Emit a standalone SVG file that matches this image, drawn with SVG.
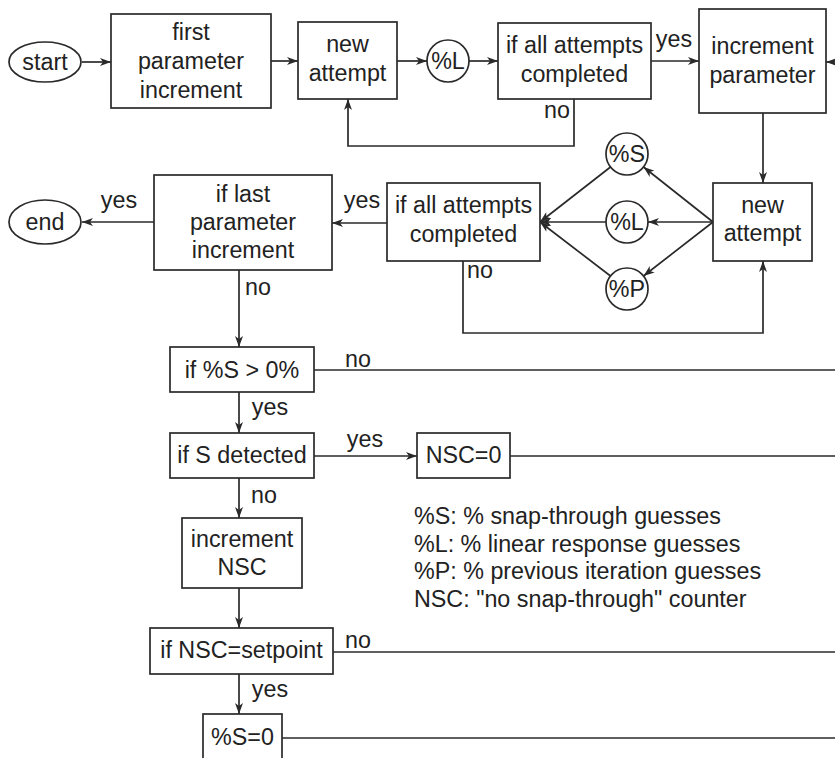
<svg xmlns="http://www.w3.org/2000/svg" width="835" height="758" viewBox="0 0 835 758">
<defs>
<marker id="ah" markerUnits="userSpaceOnUse" markerWidth="12" markerHeight="8" refX="11" refY="4" orient="auto">
<path d="M0,0 L11,4 L0,8 L3,4 z" fill="#2a2a2a"/>
</marker>
<style>
.n{fill:#fff;stroke:#2a2a2a;stroke-width:1.7}
.t{font-family:"Liberation Sans",Arial,sans-serif;font-size:23.3px;fill:#222;text-anchor:middle}
.l{font-family:"Liberation Sans",Arial,sans-serif;font-size:23.3px;fill:#222}
.c{fill:none;stroke:#2a2a2a;stroke-width:1.7}
.a{marker-end:url(#ah)}
</style>
</defs>
<rect width="835" height="758" fill="#fff"/>
<g id="connectors">
<line class="c a" x1="82" y1="62" x2="111" y2="62"/>
<line class="c a" x1="271" y1="61" x2="298" y2="61"/>
<line class="c a" x1="397" y1="61" x2="427" y2="61"/>
<line class="c a" x1="469" y1="61" x2="498" y2="61"/>
<line class="c a" x1="651" y1="61" x2="699" y2="61"/>
<line class="c a" x1="836" y1="62" x2="826" y2="62"/>
<polyline class="c a" points="574,99 574,146 348,146 348,99"/>
<line class="c a" x1="763" y1="113" x2="763" y2="183"/>
<line class="c a" x1="713" y1="222" x2="643.5" y2="167"/>
<line class="c a" x1="713" y1="222" x2="648" y2="222"/>
<line class="c a" x1="713" y1="222" x2="643.5" y2="276"/>
<line class="c a" x1="610.5" y1="167" x2="540" y2="222"/>
<line class="c a" x1="606" y1="222" x2="540" y2="222"/>
<line class="c a" x1="610.5" y1="276" x2="540" y2="222"/>
<polyline class="c a" points="463,261 463,333 763,333 763,261"/>
<line class="c a" x1="387" y1="223" x2="332" y2="223"/>
<line class="c a" x1="154" y1="222" x2="82" y2="222"/>
<line class="c a" x1="239" y1="270" x2="239" y2="347"/>
<line class="c" x1="314" y1="370" x2="835" y2="370"/>
<line class="c a" x1="239" y1="392" x2="239" y2="433"/>
<line class="c a" x1="314" y1="456" x2="417" y2="456"/>
<line class="c" x1="510" y1="456" x2="835" y2="456"/>
<line class="c a" x1="239" y1="478" x2="239" y2="518"/>
<line class="c a" x1="239" y1="588" x2="239" y2="628"/>
<line class="c" x1="333" y1="652" x2="835" y2="652"/>
<line class="c a" x1="239" y1="674" x2="239" y2="714"/>
<line class="c" x1="282" y1="738" x2="835" y2="738"/>
<text class="t" x="674" y="47">yes</text>
<text class="t" x="557" y="118">no</text>
<text class="t" x="480" y="278">no</text>
<text class="t" x="362" y="208">yes</text>
<text class="t" x="119" y="208">yes</text>
<text class="t" x="258" y="295">no</text>
<text class="t" x="358" y="367">no</text>
<text class="t" x="270" y="415">yes</text>
<text class="t" x="365" y="447">yes</text>
<text class="t" x="264" y="503">no</text>
<text class="t" x="358" y="648">no</text>
<text class="t" x="270" y="697">yes</text>
</g>
<g id="start"><ellipse class="n" cx="45" cy="62" rx="36" ry="20"/><text class="t" x="45" y="70">start</text></g>
<g id="first"><rect class="n" x="111" y="14" width="160" height="94"/><text class="t" x="191" y="40">first</text><text class="t" x="191" y="69">parameter</text><text class="t" x="191" y="98">increment</text></g>
<g id="new1"><rect class="n" x="298" y="22" width="99" height="77"/><text class="t" x="347.5" y="52">new</text><text class="t" x="347.5" y="81">attempt</text></g>
<g id="L1"><circle class="n" cx="448" cy="61" r="21"/><text class="t" x="448" y="69">%L</text></g>
<g id="comp1"><rect class="n" x="498" y="23" width="153" height="76"/><text class="t" x="574.5" y="53">if all attempts</text><text class="t" x="574.5" y="82">completed</text></g>
<g id="incp"><rect class="n" x="699" y="9" width="127" height="104"/><text class="t" x="762.5" y="54">increment</text><text class="t" x="762.5" y="83">parameter</text></g>
<g id="new2"><rect class="n" x="713" y="183" width="99" height="78"/><text class="t" x="762.5" y="213">new</text><text class="t" x="762.5" y="241">attempt</text></g>
<g id="S"><circle class="n" cx="627" cy="154" r="21"/><text class="t" x="627" y="162">%S</text></g>
<g id="L2"><circle class="n" cx="627" cy="222" r="21"/><text class="t" x="627" y="230">%L</text></g>
<g id="P"><circle class="n" cx="627" cy="289" r="21"/><text class="t" x="627" y="297">%P</text></g>
<g id="comp2"><rect class="n" x="387" y="183" width="153" height="78"/><text class="t" x="463.5" y="213">if all attempts</text><text class="t" x="463.5" y="242">completed</text></g>
<g id="last"><rect class="n" x="154" y="175" width="178" height="95"/><text class="t" x="243" y="202">if last</text><text class="t" x="243" y="230">parameter</text><text class="t" x="243" y="258">increment</text></g>
<g id="end"><ellipse class="n" cx="45" cy="222" rx="36" ry="22"/><text class="t" x="45" y="230">end</text></g>
<g id="s0"><rect class="n" x="170" y="347" width="144" height="45"/><text class="t" x="242" y="378">if %S &gt; 0%</text></g>
<g id="sdet"><rect class="n" x="170" y="433" width="144" height="45"/><text class="t" x="242" y="463">if S detected</text></g>
<g id="nsc0"><rect class="n" x="417" y="433" width="93" height="45"/><text class="t" x="463.5" y="463">NSC=0</text></g>
<g id="incnsc"><rect class="n" x="182" y="518" width="120" height="70"/><text class="t" x="242" y="547">increment</text><text class="t" x="242" y="575">NSC</text></g>
<g id="setp"><rect class="n" x="150" y="628" width="183" height="46"/><text class="t" x="241.5" y="658">if NSC=setpoint</text></g>
<g id="s0b"><rect class="n" x="203" y="714" width="79" height="60"/><text class="t" x="242.5" y="745">%S=0</text></g>
<g id="legend">
<text class="l" x="414" y="524">%S: % snap-through guesses</text>
<text class="l" x="414" y="552">%L: % linear response guesses</text>
<text class="l" x="414" y="579">%P: % previous iteration guesses</text>
<text class="l" x="414" y="607">NSC: "no snap-through" counter</text>
</g>
</svg>
